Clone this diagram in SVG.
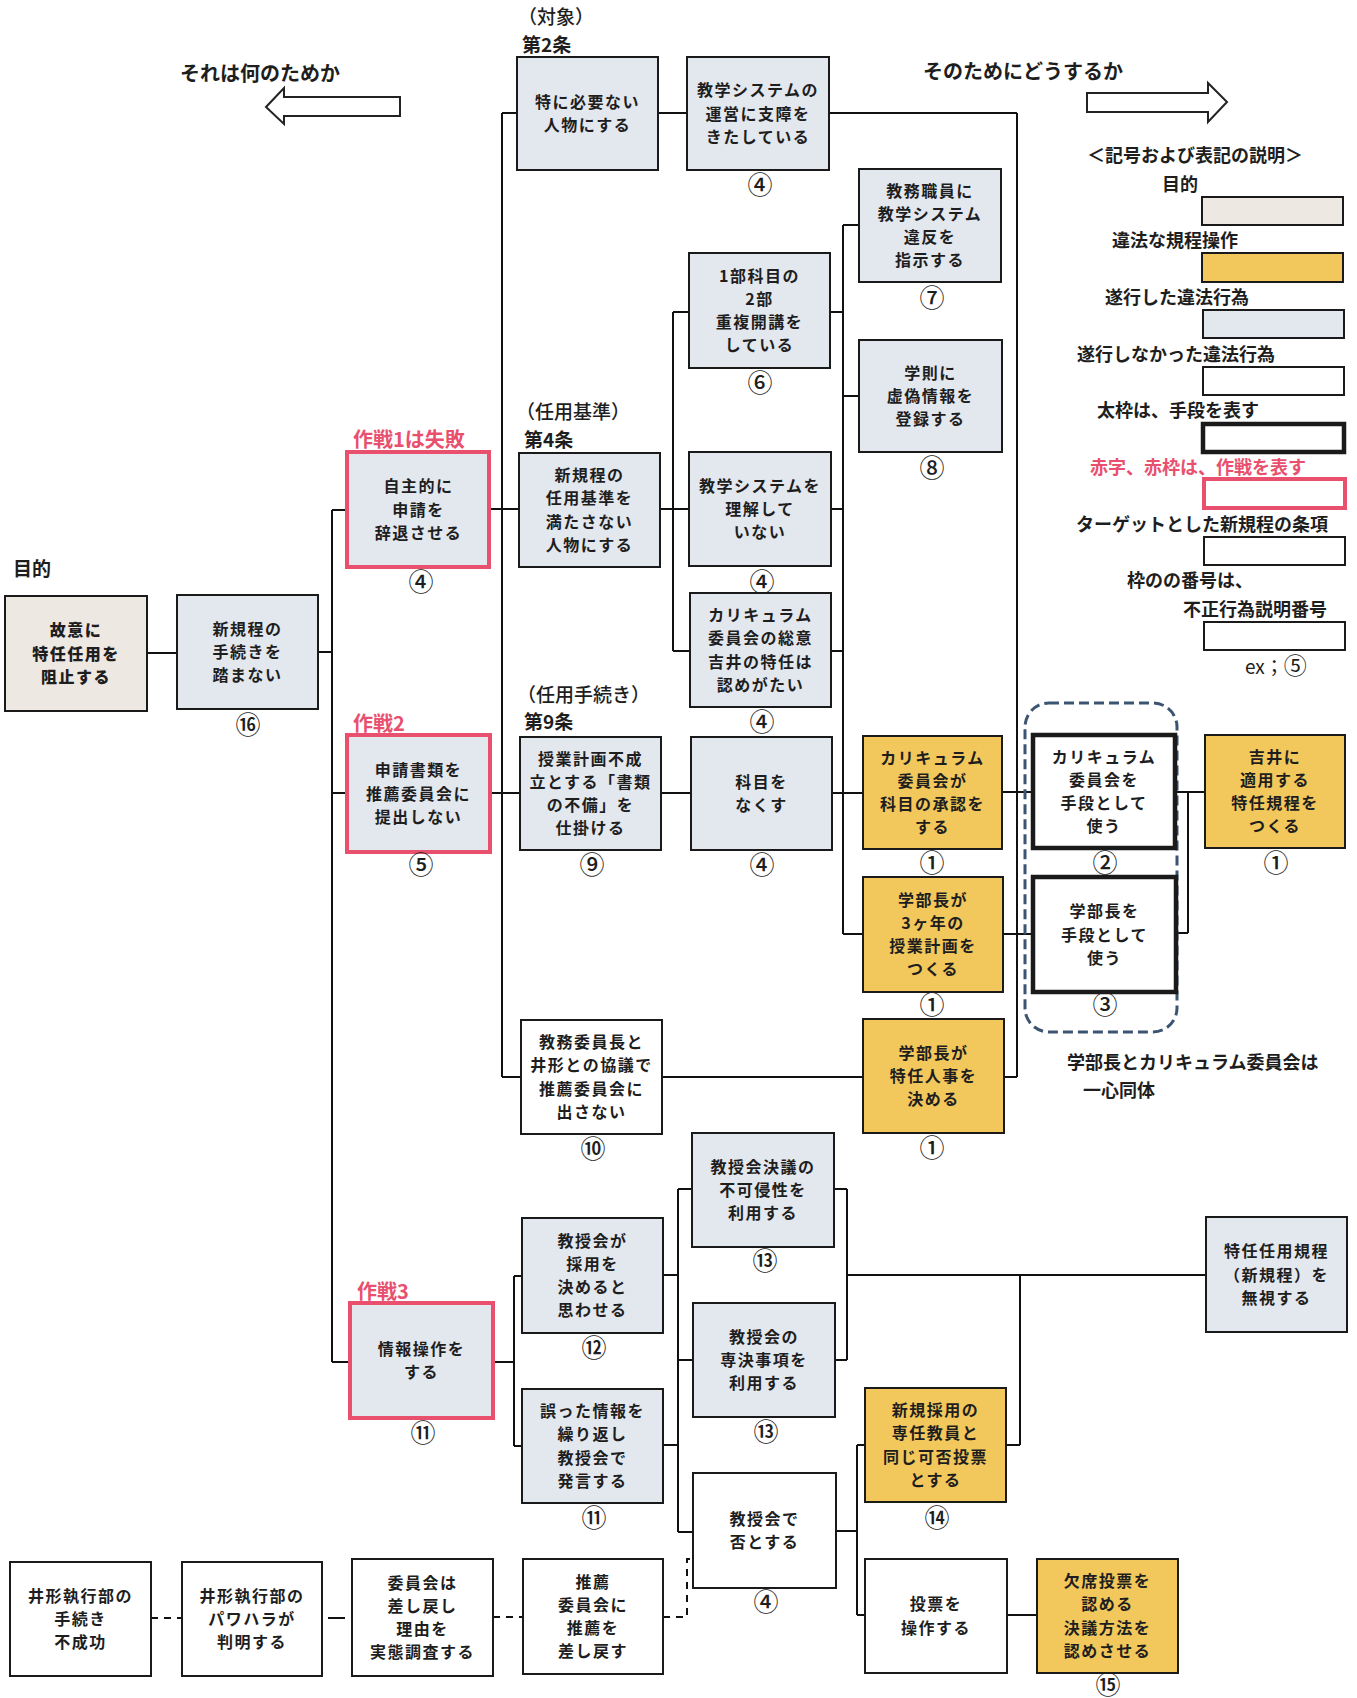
<svg xmlns="http://www.w3.org/2000/svg" width="1357" height="1698" viewBox="0 0 1357 1698">
<style>
.bx{stroke:#1a1a1a;stroke-width:2}
.b{fill:#e3e7ee}
.y{fill:#f2c75c}
.w{fill:#ffffff}
.p{fill:#eee8e3}
.r{stroke:#e8506e;stroke-width:4}
.k{stroke-width:4.5}
.t{font-family:"Noto Sans CJK JP","Noto Sans CJK SC",sans-serif;font-size:16px;letter-spacing:1.5px;font-weight:700;fill:#1e1e1e;text-anchor:middle}
.n{font-family:"Noto Sans CJK JP",sans-serif;font-size:25px;font-weight:500;fill:#1e1e1e;text-anchor:middle}
.l{font-family:"Noto Sans CJK JP",sans-serif;font-size:18px;font-weight:700;fill:#1e1e1e}
.lr{font-family:"Noto Sans CJK JP",sans-serif;font-size:19px;font-weight:500;fill:#1e1e1e}
.red{font-family:"Noto Sans CJK JP",sans-serif;font-size:20px;font-weight:700;fill:#e8506e}
.c{stroke:#111;stroke-width:2;fill:none}
.d{stroke:#111;stroke-width:2;fill:none;stroke-dasharray:7 6}
</style>
<rect width="1357" height="1698" fill="#fff"/>

<g id="headers">
<text class="l" x="180" y="81" style="font-size:20px">それは何のためか</text>
<polygon points="266,107 284,88 284,97 400,97 400,116 284,116 284,124" fill="#fff" stroke="#222" stroke-width="2"/>
<text class="l" x="923" y="79" style="font-size:20px">そのためにどうするか</text>
<polygon points="1087,93 1208,93 1208,83 1227,102 1208,122 1208,112 1087,112" fill="#fff" stroke="#222" stroke-width="2"/>
<text class="l" x="13" y="576" style="font-size:19px">目的</text>
<text class="lr" x="518" y="24">（対象）</text>
<text class="l" x="522" y="52" style="font-size:19px">第2条</text>
<text class="lr" x="516" y="419">（任用基準）</text>
<text class="l" x="524" y="447" style="font-size:19px">第4条</text>
<text class="lr" x="517" y="702">（任用手続き）</text>
<text class="l" x="524" y="729" style="font-size:19px">第9条</text>
<text class="red" x="353" y="447">作戦1は失敗</text>
<text class="red" x="353" y="731">作戦2</text>
<text class="red" x="357" y="1299">作戦3</text>
</g>

<g id="legend">
<text class="l" x="1087" y="162">＜記号および表記の説明＞</text>
<text class="l" x="1162" y="191">目的</text>
<rect class="bx p" x="1202" y="197" width="141" height="28"/>
<text class="l" x="1112" y="247">違法な規程操作</text>
<rect class="bx y" x="1202" y="253" width="141" height="29"/>
<text class="l" x="1105" y="304">遂行した違法行為</text>
<rect class="bx b" x="1203" y="310" width="141" height="28"/>
<text class="l" x="1077" y="361">遂行しなかった違法行為</text>
<rect class="bx w" x="1203" y="367" width="141" height="28"/>
<text class="l" x="1097" y="417">太枠は、手段を表す</text>
<rect class="bx w k" x="1203" y="424" width="141" height="28"/>
<text class="red" x="1090" y="474" style="font-size:18px">赤字、赤枠は、作戦を表す</text>
<rect class="w r" x="1204" y="479" width="141" height="29"/>
<text class="l" x="1076" y="531">ターゲットとした新規程の条項</text>
<rect class="bx w" x="1204" y="537" width="141" height="28"/>
<text class="l" x="1127" y="587">枠のの番号は、</text>
<text class="l" x="1183" y="616">不正行為説明番号</text>
<rect class="bx w" x="1204" y="622" width="141" height="28"/>
<text class="lr" x="1245" y="674" style="font-weight:400">ex；<tspan style="font-size:23px">⑤</tspan></text>
<text class="l" x="1067" y="1069">学部長とカリキュラム委員会は</text>
<text class="l" x="1083" y="1097">一心同体</text>
</g>

<g id="connectors">
<path class="c" d="M147,653H177 M318,652H332 M332,510V1362 M332,510H347 M332,793H347 M332,1362H350"/>
<path class="c" d="M490,509H519 M490,793H520 M502,113V1077 M502,113H517 M502,1077H521"/>
<path class="c" d="M658,113H687 M829,113H1017 M1017,113V1077 M1002,792H1033 M1003,934H1033 M1004,1077H1017"/>
<path class="c" d="M660,509H689 M673,312V651 M673,312H689 M673,651H690 M661,793H691"/>
<path class="c" d="M830,312H843 M831,509H843 M831,651H843 M832,793H863 M843,225V934 M843,225H859 M843,396H859 M843,934H863"/>
<path class="c" d="M662,1077H863"/>
<path class="c" d="M1175,792H1205 M1188,792V933 M1176,933H1188"/>
<path class="c" d="M493,1362H514 M514,1276V1446 M514,1276H522 M514,1446H522"/>
<path class="c" d="M663,1275H678 M663,1445H678 M678,1189V1532 M678,1189H692 M678,1360H693 M678,1532H693"/>
<path class="c" d="M834,1189H847 M847,1189V1360 M835,1360H847 M847,1275H1206 M1020,1275V1445 M1006,1445H1020"/>
<path class="c" d="M836,1531H857 M857,1445V1615 M857,1445H865 M857,1615H865 M1007,1615H1037"/>
<path class="d" d="M151,1618H182"/>
<path class="c" d="M328,1618H345"/>
<path class="d" d="M493,1617H523"/>
<path class="d" d="M663,1617H687V1559H693"/>
</g>

<g id="group-dashed">
<rect x="1025" y="703" width="152" height="329" rx="24" fill="none" stroke="#3b5472" stroke-width="3" stroke-dasharray="10 5"/>
</g>

<g id="n_goal"><rect class="bx p" x="5" y="596" width="142" height="115"/><text class="t" x="76" y="636.3" style="font-weight:900">故意に<tspan x="76" dy="23.2">特任任用を</tspan><tspan x="76" dy="23.2">阻止する</tspan></text></g>
<g id="n_shinkitei"><rect class="bx b" x="177" y="595" width="141" height="114"/><text class="t" x="247.5" y="634.8">新規程の<tspan x="247.5" dy="23.2">手続きを</tspan><tspan x="247.5" dy="23.2">踏まない</tspan></text><text class="n" x="248" y="734">⑯</text></g>
<g id="n_jishu"><rect class="b r" x="347" y="452" width="142" height="115"/><text class="t" x="418.5" y="492.3">自主的に<tspan x="418.5" dy="23.2">申請を</tspan><tspan x="418.5" dy="23.2">辞退させる</tspan></text><text class="n" x="421" y="591">④</text></g>
<g id="n_shinsei"><rect class="b r" x="347" y="735" width="143" height="117"/><text class="t" x="418.5" y="776.3">申請書類を<tspan x="418.5" dy="23.2">推薦委員会に</tspan><tspan x="418.5" dy="23.2">提出しない</tspan></text><text class="n" x="421" y="874">⑤</text></g>
<g id="n_joho"><rect class="b r" x="350" y="1303" width="143" height="115"/><text class="t" x="421.5" y="1354.9">情報操作を<tspan x="421.5" dy="23.2">する</tspan></text><text class="n" x="423" y="1442">⑪</text></g>
<g id="n_tokuni"><rect class="bx b" x="517" y="57" width="141" height="113"/><text class="t" x="587.5" y="107.9">特に必要ない<tspan x="587.5" dy="23.2">人物にする</tspan></text></g>
<g id="n_ninyo"><rect class="bx b" x="519" y="453" width="141" height="114"/><text class="t" x="589.5" y="481.2">新規程の<tspan x="589.5" dy="23.2">任用基準を</tspan><tspan x="589.5" dy="23.2">満たさない</tspan><tspan x="589.5" dy="23.2">人物にする</tspan></text></g>
<g id="n_jugyo"><rect class="bx b" x="520" y="737" width="141" height="113"/><text class="t" x="590.5" y="764.7">授業計画不成<tspan x="590.5" dy="23.2">立とする「書類</tspan><tspan x="590.5" dy="23.2">の不備」を</tspan><tspan x="590.5" dy="23.2">仕掛ける</tspan></text><text class="n" x="592" y="874">⑨</text></g>
<g id="n_kyomu"><rect class="bx w" x="521" y="1020" width="141" height="114"/><text class="t" x="591.5" y="1048.2">教務委員長と<tspan x="591.5" dy="23.2">井形との協議で</tspan><tspan x="591.5" dy="23.2">推薦委員会に</tspan><tspan x="591.5" dy="23.2">出さない</tspan></text><text class="n" x="593" y="1158">⑩</text></g>
<g id="n_kyojukai_ga"><rect class="bx b" x="522" y="1218" width="141" height="115"/><text class="t" x="592.5" y="1246.7">教授会が<tspan x="592.5" dy="23.2">採用を</tspan><tspan x="592.5" dy="23.2">決めると</tspan><tspan x="592.5" dy="23.2">思わせる</tspan></text><text class="n" x="594" y="1357">⑫</text></g>
<g id="n_ayamatta"><rect class="bx b" x="522" y="1389" width="141" height="114"/><text class="t" x="592.5" y="1417.2">誤った情報を<tspan x="592.5" dy="23.2">繰り返し</tspan><tspan x="592.5" dy="23.2">教授会で</tspan><tspan x="592.5" dy="23.2">発言する</tspan></text><text class="n" x="594" y="1527">⑪</text></g>
<g id="n_suisen"><rect class="bx w" x="523" y="1559" width="140" height="115"/><text class="t" x="593" y="1587.7">推薦<tspan x="593" dy="23.2">委員会に</tspan><tspan x="593" dy="23.2">推薦を</tspan><tspan x="593" dy="23.2">差し戻す</tspan></text></g>
<g id="n_kyogaku"><rect class="bx b" x="687" y="57" width="142" height="113"/><text class="t" x="758" y="96.3">教学システムの<tspan x="758" dy="23.2">運営に支障を</tspan><tspan x="758" dy="23.2">きたしている</tspan></text><text class="n" x="760" y="194">④</text></g>
<g id="n_1bu"><rect class="bx b" x="689" y="253" width="141" height="115"/><text class="t" x="759.5" y="281.7">1部科目の<tspan x="759.5" dy="23.2">2部</tspan><tspan x="759.5" dy="23.2">重複開講を</tspan><tspan x="759.5" dy="23.2">している</tspan></text><text class="n" x="760" y="392">⑥</text></g>
<g id="n_rikai"><rect class="bx b" x="689" y="452" width="142" height="114"/><text class="t" x="760" y="491.8">教学システムを<tspan x="760" dy="23.2">理解して</tspan><tspan x="760" dy="23.2">いない</tspan></text><text class="n" x="762" y="591">④</text></g>
<g id="n_curri_soi"><rect class="bx b" x="690" y="593" width="141" height="114"/><text class="t" x="760.5" y="621.2">カリキュラム<tspan x="760.5" dy="23.2">委員会の総意</tspan><tspan x="760.5" dy="23.2">吉井の特任は</tspan><tspan x="760.5" dy="23.2">認めがたい</tspan></text><text class="n" x="762" y="731">④</text></g>
<g id="n_kamoku"><rect class="bx b" x="691" y="737" width="141" height="113"/><text class="t" x="761.5" y="787.9">科目を<tspan x="761.5" dy="23.2">なくす</tspan></text><text class="n" x="762" y="874">④</text></g>
<g id="n_ketsugi"><rect class="bx b" x="692" y="1133" width="142" height="114"/><text class="t" x="763" y="1172.8">教授会決議の<tspan x="763" dy="23.2">不可侵性を</tspan><tspan x="763" dy="23.2">利用する</tspan></text><text class="n" x="765" y="1270">⑬</text></g>
<g id="n_senketsu"><rect class="bx b" x="693" y="1303" width="142" height="114"/><text class="t" x="764" y="1342.8">教授会の<tspan x="764" dy="23.2">専決事項を</tspan><tspan x="764" dy="23.2">利用する</tspan></text><text class="n" x="766" y="1441">⑬</text></g>
<g id="n_hi"><rect class="bx w" x="693" y="1473" width="143" height="115"/><text class="t" x="764.5" y="1524.9">教授会で<tspan x="764.5" dy="23.2">否とする</tspan></text><text class="n" x="766" y="1611">④</text></g>
<g id="n_shokuin"><rect class="bx b" x="859" y="169" width="142" height="113"/><text class="t" x="930" y="196.7">教務職員に<tspan x="930" dy="23.2">教学システム</tspan><tspan x="930" dy="23.2">違反を</tspan><tspan x="930" dy="23.2">指示する</tspan></text><text class="n" x="932" y="307">⑦</text></g>
<g id="n_gakusoku"><rect class="bx b" x="859" y="340" width="143" height="112"/><text class="t" x="930.5" y="378.8">学則に<tspan x="930.5" dy="23.2">虚偽情報を</tspan><tspan x="930.5" dy="23.2">登録する</tspan></text><text class="n" x="932" y="477">⑧</text></g>
<g id="n_curri_shonin"><rect class="bx y" x="863" y="736" width="139" height="113"/><text class="t" x="932.5" y="763.7">カリキュラム<tspan x="932.5" dy="23.2">委員会が</tspan><tspan x="932.5" dy="23.2">科目の承認を</tspan><tspan x="932.5" dy="23.2">する</tspan></text><text class="n" x="932" y="872">①</text></g>
<g id="n_3nen"><rect class="bx y" x="863" y="877" width="140" height="115"/><text class="t" x="933" y="905.7">学部長が<tspan x="933" dy="23.2">3ヶ年の</tspan><tspan x="933" dy="23.2">授業計画を</tspan><tspan x="933" dy="23.2">つくる</tspan></text><text class="n" x="932" y="1014">①</text></g>
<g id="n_jinji"><rect class="bx y" x="863" y="1019" width="141" height="114"/><text class="t" x="933.5" y="1058.8">学部長が<tspan x="933.5" dy="23.2">特任人事を</tspan><tspan x="933.5" dy="23.2">決める</tspan></text><text class="n" x="932" y="1157">①</text></g>
<g id="n_shinki"><rect class="bx y" x="865" y="1388" width="141" height="114"/><text class="t" x="935.5" y="1416.2">新規採用の<tspan x="935.5" dy="23.2">専任教員と</tspan><tspan x="935.5" dy="23.2">同じ可否投票</tspan><tspan x="935.5" dy="23.2">とする</tspan></text><text class="n" x="937" y="1527">⑭</text></g>
<g id="n_tohyo"><rect class="bx w" x="865" y="1559" width="142" height="114"/><text class="t" x="936" y="1610.4">投票を<tspan x="936" dy="23.2">操作する</tspan></text></g>
<g id="n_curri_shudan"><rect class="bx w k" x="1033" y="735" width="142" height="113"/><text class="t" x="1104" y="762.7">カリキュラム<tspan x="1104" dy="23.2">委員会を</tspan><tspan x="1104" dy="23.2">手段として</tspan><tspan x="1104" dy="23.2">使う</tspan></text><text class="n" x="1105" y="872">②</text></g>
<g id="n_gakubucho"><rect class="bx w k" x="1033" y="877" width="143" height="115"/><text class="t" x="1104.5" y="917.3">学部長を<tspan x="1104.5" dy="23.2">手段として</tspan><tspan x="1104.5" dy="23.2">使う</tspan></text><text class="n" x="1105" y="1014">③</text></g>
<g id="n_yoshii"><rect class="bx y" x="1205" y="735" width="140" height="113"/><text class="t" x="1275" y="762.7">吉井に<tspan x="1275" dy="23.2">適用する</tspan><tspan x="1275" dy="23.2">特任規程を</tspan><tspan x="1275" dy="23.2">つくる</tspan></text><text class="n" x="1276" y="872">①</text></g>
<g id="n_kesseki"><rect class="bx y" x="1037" y="1559" width="141" height="114"/><text class="t" x="1107.5" y="1587.2">欠席投票を<tspan x="1107.5" dy="23.2">認める</tspan><tspan x="1107.5" dy="23.2">決議方法を</tspan><tspan x="1107.5" dy="23.2">認めさせる</tspan></text><text class="n" x="1108" y="1694">⑮</text></g>
<g id="n_tokunin"><rect class="bx b" x="1206" y="1217" width="141" height="115"/><text class="t" x="1276.5" y="1257.3">特任任用規程<tspan x="1276.5" dy="23.2">（新規程）を</tspan><tspan x="1276.5" dy="23.2">無視する</tspan></text></g>
<g id="n_b1"><rect class="bx w" x="10" y="1562" width="141" height="114"/><text class="t" x="80.5" y="1601.8">井形執行部の<tspan x="80.5" dy="23.2">手続き</tspan><tspan x="80.5" dy="23.2">不成功</tspan></text></g>
<g id="n_b2"><rect class="bx w" x="182" y="1562" width="140" height="114"/><text class="t" x="252" y="1601.8">井形執行部の<tspan x="252" dy="23.2">パワハラが</tspan><tspan x="252" dy="23.2">判明する</tspan></text></g>
<g id="n_b3"><rect class="bx w" x="352" y="1559" width="141" height="117"/><text class="t" x="422.5" y="1588.7">委員会は<tspan x="422.5" dy="23.2">差し戻し</tspan><tspan x="422.5" dy="23.2">理由を</tspan><tspan x="422.5" dy="23.2">実態調査する</tspan></text></g>
</svg>
